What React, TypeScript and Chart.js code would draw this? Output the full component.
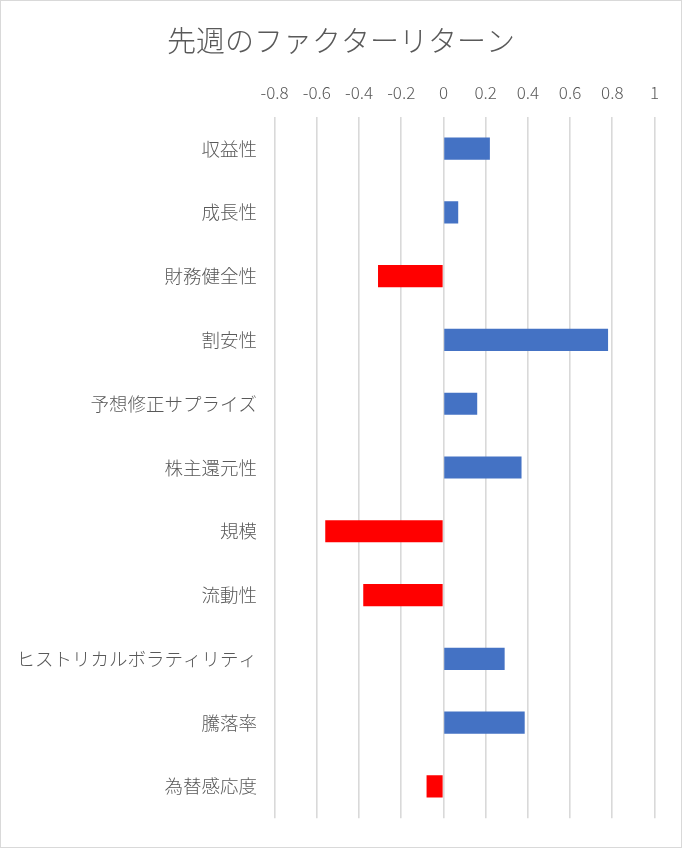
import React, { useEffect, useRef } from "react";
import { Chart, registerables } from "chart.js";

Chart.register(...registerables);

const chartTitle = "先週のファクターリターン";
const categories = [
  "収益性",
  "成長性",
  "財務健全性",
  "割安性",
  "予想修正サプライズ",
  "株主還元性",
  "規模",
  "流動性",
  "ヒストリカルボラティリティ",
  "騰落率",
  "為替感応度",
];
const returns = [0.22, 0.07, -0.31, 0.78, 0.16, 0.37, -0.56, -0.38, 0.29, 0.385, -0.08];
const xTickLabels = ["-0.8", "-0.6", "-0.4", "-0.2", "0", "0.2", "0.4", "0.6", "0.8", "1"];
const xMin = -0.8;
const xMax = 1;
const xStep = 0.2;

const POS_COLOR = "#4472C4";
const NEG_COLOR = "#FF0000";
const TEXT_COLOR = "#595959";
const GRID_COLOR = "#D9D9D9";
const FONT = "'Noto Sans CJK JP', 'Noto Sans', sans-serif";

const centeredTitle = {
  id: "centeredTitle",
  afterDraw(chart: any) {
    const ctx = chart.ctx;
    ctx.save();
    ctx.fillStyle = TEXT_COLOR;
    ctx.font = `300 29px ${FONT}`;
    ctx.textAlign = "center";
    ctx.textBaseline = "middle";
    ctx.fillText(chartTitle, chart.width / 2, 39.5);
    ctx.restore();
  },
};

export default function App() {
  const canvasRef = useRef<HTMLCanvasElement | null>(null);

  useEffect(() => {
    if (!canvasRef.current) return;
    const chart = new Chart(canvasRef.current, {
      type: "bar",
      data: {
        labels: categories,
        datasets: [
          {
            data: returns,
            backgroundColor: returns.map((v) => (v >= 0 ? POS_COLOR : NEG_COLOR)),
            borderWidth: 0,
            categoryPercentage: 1,
            barPercentage: 0.347,
          },
        ],
      },
      plugins: [centeredTitle],
      options: {
        indexAxis: "y",
        animation: false,
        responsive: false,
        maintainAspectRatio: false,
        layout: { padding: { left: 0, right: 26.5, top: 57.8, bottom: 24 } },
        plugins: {
          legend: { display: false },
          tooltip: { enabled: false },
          title: { display: false },
        },
        scales: {
          x: {
            position: "top",
            min: xMin,
            max: xMax,
            grid: { color: GRID_COLOR, lineWidth: 1.6, drawTicks: false },
            border: { display: false },
            ticks: {
              stepSize: xStep,
              color: TEXT_COLOR,
              padding: 13.5,
              font: { family: FONT, size: 17, weight: "300", lineHeight: 1.2 },
              callback: (_v: any, i: number) => xTickLabels[i],
            },
            afterFit: (scale: any) => {
              scale.height = 57.9;
            },
          },
          y: {
            grid: { display: false, drawTicks: false },
            border: { display: false },
            ticks: {
              color: TEXT_COLOR,
              padding: 17.6,
              font: { family: FONT, size: 18.5, weight: "300", lineHeight: 1.2 },
            },
            afterFit: (scale: any) => {
              scale.width = 273.6;
            },
          },
        },
      },
    });
    return () => chart.destroy();
  }, []);

  return (
    <div
      style={{
        position: "fixed",
        left: 0,
        top: 0,
        width: 682,
        height: 848,
        boxSizing: "border-box",
        border: "1px solid #D9D9D9",
        background: "#fff",
      }}
    >
      <canvas ref={canvasRef} width={680} height={846} style={{ display: "block", width: 680, height: 846 }} />
    </div>
  );
}
